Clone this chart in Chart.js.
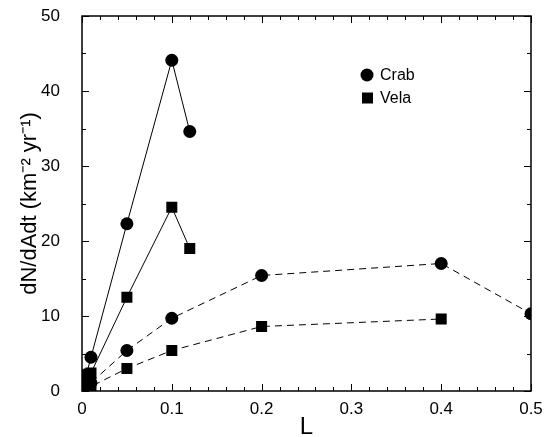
<!DOCTYPE html>
<html>
<head>
<meta charset="utf-8">
<script src="https://cdn.jsdelivr.net/npm/chart.js@4/dist/chart.umd.min.js"></script>
<style>
html,body{margin:0;padding:0;background:#fff;}
#wrap{width:545px;height:437px;}
</style>
</head>
<body>
<div id="wrap"><canvas id="c" width="545" height="437"></canvas></div>
<script>
const solidL = [0.001, 0.005, 0.01, 0.05, 0.1, 0.12];
const dashedL = [0.001, 0.005, 0.01, 0.05, 0.1, 0.2, 0.4, 0.5];
const crabSolid = [0.2, 2.2, 4.5, 22.3, 44.1, 34.6];
const velaSolid = [0.1, 1.2, 2.4, 12.5, 24.5, 19.0];
const crabDashed = [0.05, 0.5, 1.1, 5.4, 9.7, 15.4, 17.0, 10.3];
const velaDashed = [0.03, 0.3, 0.6, 3.0, 5.4, 8.6, 9.6];
const xTickLabels = ['0', '0.1', '0.2', '0.3', '0.4', '0.5'];
const yTickLabels = ['0', '10', '20', '30', '40', '50'];
const legendNames = ['Crab', 'Vela'];

const FONT = 'Liberation Sans, Arial, sans-serif';

function pts(xs, ys) { return ys.map((y, i) => ({x: xs[i], y: y})); }

function ds(xs, ys, style, dashed) {
  return {
    data: pts(xs, ys),
    borderColor: '#000',
    backgroundColor: '#000',
    borderWidth: 1,
    borderDash: dashed ? [7, 5] : [],
    pointStyle: style,
    pointRadius: style === 'rect' ? 7.8 : 6.5,
    pointHoverRadius: style === 'rect' ? 7.8 : 6.5,
    pointBorderWidth: 0,
    showLine: true,
    tension: 0,
    fill: false
  };
}

const framePlugin = {
  id: 'frame',
  afterDraw(chart) {
    const ctx = chart.ctx;
    const a = chart.chartArea;
    const xs = chart.scales.x, ys = chart.scales.y;
    ctx.save();
    ctx.strokeStyle = '#000';
    ctx.lineWidth = 1.5;
    ctx.strokeRect(a.left, a.top, a.right - a.left, a.bottom - a.top);
    ctx.lineWidth = 1;
    ctx.beginPath();
    for (let i = 0; i <= 25; i++) {
      const v = i * 0.02;
      const p = Math.round(xs.getPixelForValue(v)) + 0.5;
      const len = (i % 5 === 0) ? 7 : 4;
      ctx.moveTo(p, a.bottom); ctx.lineTo(p, a.bottom - len);
      ctx.moveTo(p, a.top); ctx.lineTo(p, a.top + len);
    }
    for (let i = 0; i <= 10; i++) {
      const v = i * 5;
      const p = Math.round(ys.getPixelForValue(v)) + 0.5;
      const len = (i % 2 === 0) ? 7 : 4;
      ctx.moveTo(a.left, p); ctx.lineTo(a.left + len, p);
      ctx.moveTo(a.right, p); ctx.lineTo(a.right - len, p);
    }
    ctx.stroke();
    const lx = 361, ly = [75, 98];
    const styles = ['circle', 'rect'];
    ctx.fillStyle = '#000';
    ctx.font = '16px ' + FONT;
    ctx.textBaseline = 'middle';
    for (let i = 0; i < 2; i++) {
      ctx.beginPath();
      if (styles[i] === 'circle') {
        ctx.arc(lx + 6, ly[i], 6.5, 0, Math.PI * 2);
      } else {
        ctx.rect(lx + 1, ly[i] - 5.5, 11, 11);
      }
      ctx.fill();
      ctx.fillText(legendNames[i], lx + 19, ly[i] + 1);
    }
    ctx.restore();
  }
};

function zeroPad(s) { s.paddingTop = 0; s.paddingBottom = 0; s.paddingLeft = 0; s.paddingRight = 0; }

new Chart(document.getElementById('c'), {
  type: 'scatter',
  data: {
    datasets: [
      ds(solidL, crabSolid, 'circle', false),
      ds(solidL, velaSolid, 'rect', false),
      ds(dashedL, crabDashed, 'circle', true),
      ds(dashedL.slice(0, velaDashed.length), velaDashed, 'rect', true)
    ]
  },
  options: {
    responsive: false,
    animation: false,
    devicePixelRatio: 1,
    layout: {padding: {left: 0, right: 14, top: 16, bottom: 0}},
    plugins: {legend: {display: false}, tooltip: {enabled: false}},
    scales: {
      x: {
        type: 'linear', min: 0, max: 0.5,
        grid: {display: false, drawTicks: false},
        border: {display: false},
        afterFit: (s) => { s.height = 46; zeroPad(s); },
        ticks: {
          stepSize: 0.1, padding: 8, color: '#000',
          font: {family: FONT, size: 17},
          callback: (v) => xTickLabels[Math.round(v * 10)]
        },
        title: {display: true, text: 'L', color: '#000', font: {family: FONT, size: 24, lineHeight: 1}, padding: {top: 0, bottom: -2}}
      },
      y: {
        type: 'linear', min: 0, max: 50,
        grid: {display: false, drawTicks: false},
        border: {display: false},
        afterFit: (s) => { s.width = 82; zeroPad(s); },
        ticks: {
          stepSize: 10, padding: 22, color: '#000',
          font: {family: FONT, size: 17},
          callback: (v) => yTickLabels[Math.round(v / 10)]
        },
        title: {display: true, text: 'dN/dAdt (km\u207B\u00B2 yr\u207B\u00B9)', color: '#000', font: {family: FONT, size: 22, lineHeight: 1}, padding: {top: 19, bottom: 0}}
      }
    }
  },
  plugins: [framePlugin]
});
</script>
</body>
</html>
